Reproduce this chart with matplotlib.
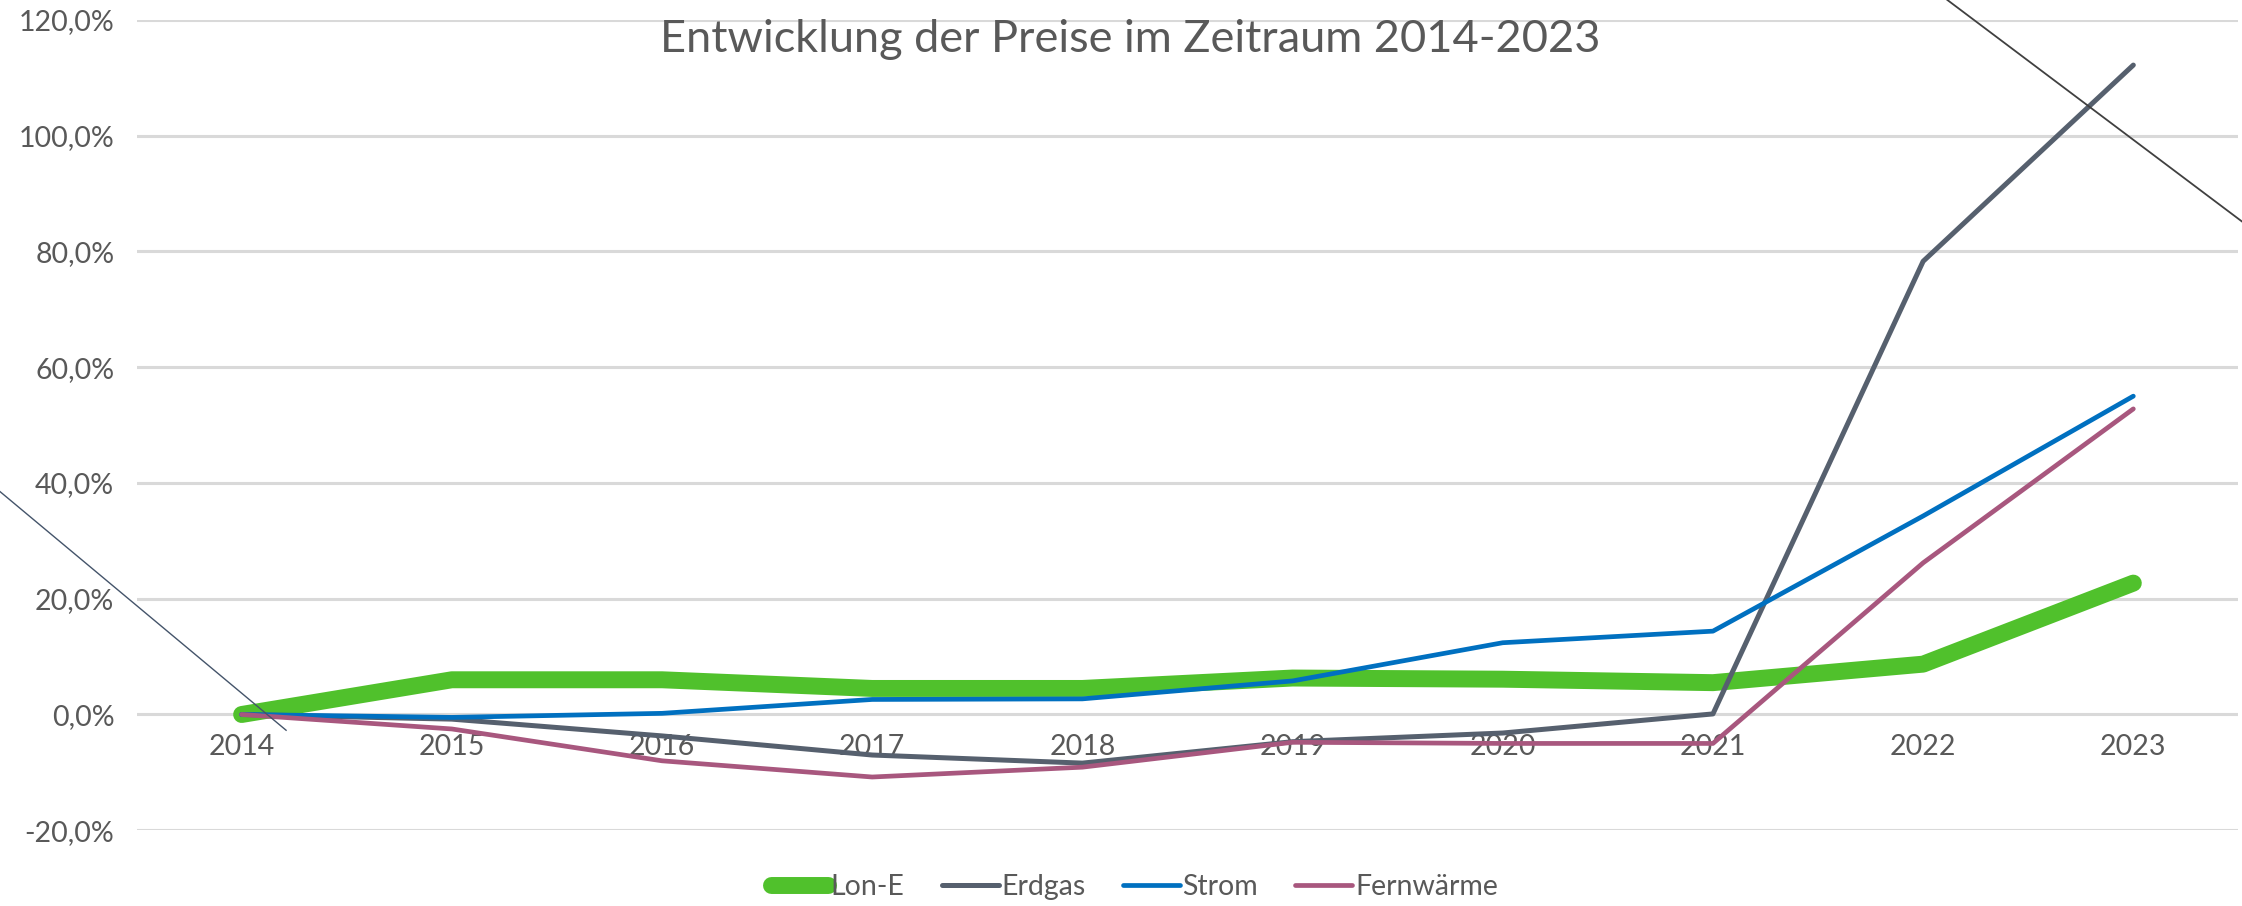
import matplotlib
matplotlib.use("Agg")
import matplotlib.pyplot as plt
from matplotlib.lines import Line2D
from matplotlib.ticker import FuncFormatter

# data (share of price change vs. 2014)
years = ['2014', '2015', '2016', '2017', '2018', '2019', '2020', '2021', '2022', '2023']
lon_e = [0.0, 0.060, 0.060, 0.045, 0.045, 0.063, 0.061, 0.055, 0.087, 0.227]
erdgas = [0.0, -0.008, -0.037, -0.070, -0.084, -0.047, -0.032, 0.001, 0.783, 1.122]
strom = [0.0, -0.005, 0.002, 0.026, 0.027, 0.058, 0.124, 0.144, 0.343, 0.550]
fernwaerme = [0.0, -0.025, -0.080, -0.108, -0.091, -0.048, -0.050, -0.050, 0.262, 0.528]

series_names = ['Lon-E', 'Erdgas', 'Strom', 'Fernwärme']
series_colors = ['#50C12C', '#56606E', '#0070C0', '#A8577E']
series_widths = [12.2, 3.6, 3.4, 3.4]

text_col = '#595959'
plt.rcParams['font.family'] = ['Lato', 'DejaVu Sans']

fig = plt.figure(figsize=(22.42, 9.06), dpi=100)
ax = fig.add_axes([0.0609, 0.0836, 0.9375, 0.8944])

x = list(range(len(years)))
for vals, name, col, lw in zip([lon_e, erdgas, strom, fernwaerme], series_names, series_colors, series_widths):
	ax.plot(x, vals, color=col, lw=lw, label=name, solid_capstyle='round', solid_joinstyle='round')

ax.set_xlim(-0.5, len(years) - 0.5)
ax.set_ylim(-0.2, 1.2)
ax.set_yticks([-0.2, 0.0, 0.2, 0.4, 0.6, 0.8, 1.0, 1.2])
ax.yaxis.set_major_formatter(FuncFormatter(lambda v, p: ('%.1f%%' % (v * 100)).replace('.', ',')))
ax.grid(axis='y', color='#D9D9D9', lw=2.2)
ax.set_axisbelow(True)
for s in ax.spines.values():
	s.set_visible(False)
ax.spines['bottom'].set_position(('data', 0))
ax.set_xticks(x)
ax.set_xticklabels(years)
ax.tick_params(axis='x', length=0, pad=14, labelsize=20.5, labelcolor=text_col)
ax.tick_params(axis='y', length=0, pad=16, labelsize=20.5, labelcolor=text_col)

fig.text(0.504, 0.956, 'Entwicklung der Preise im Zeitraum 2014-2023', ha='center', va='center',
	fontsize=32.5, color=text_col)

leg = fig.legend(loc='center', bbox_to_anchor=(0.506, 0.0205), ncol=4, frameon=False,
	fontsize=20.5, handlelength=2.0, handletextpad=0.1, columnspacing=1.3)
for t in leg.get_texts():
	t.set_color(text_col)

# stray drawing lines from the original sheet
fig.add_artist(Line2D([0.0, 0.1276], [0.4574, 0.194], transform=fig.transFigure, color='#44546A', lw=1.0))
fig.add_artist(Line2D([0.8686, 1.0], [1.0, 0.7555], transform=fig.transFigure, color='#404040', lw=1.3))

fig.savefig('out.png', dpi=100)
